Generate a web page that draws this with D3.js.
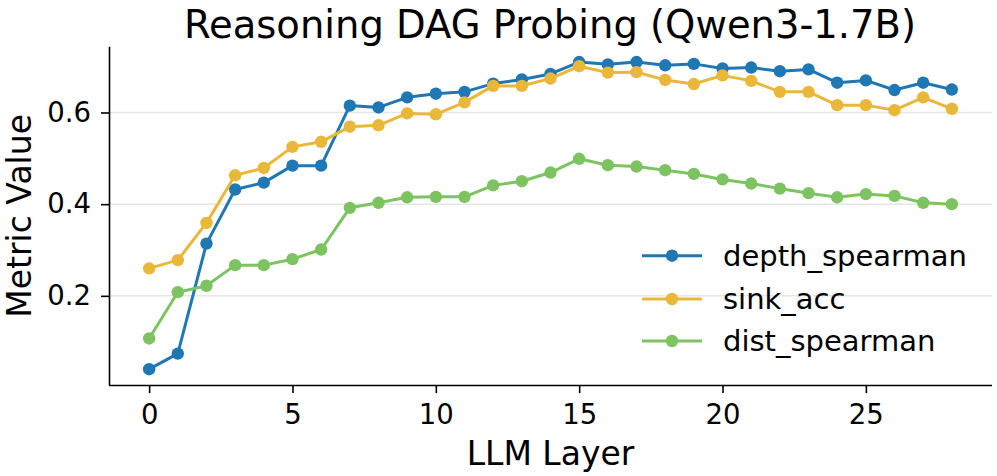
<!DOCTYPE html>
<html><head><meta charset="utf-8">
<script src="https://cdn.jsdelivr.net/npm/d3@7/dist/d3.min.js"></script>
<style>body{margin:0;background:#fff}svg{display:block}text{font-family:"DejaVu Sans",sans-serif}</style>
</head><body>
<svg id="c" width="997" height="476"></svg>
<script>
const layers = d3.range(0, 29);
const depthSpearman = [0.040,0.074,0.314,0.432,0.447,0.484,0.484,0.615,0.611,0.633,0.641,0.645,0.663,0.672,0.684,0.710,0.705,0.710,0.703,0.706,0.696,0.698,0.690,0.694,0.665,0.670,0.649,0.665,0.650];
const sinkAcc = [0.260,0.278,0.359,0.463,0.479,0.525,0.536,0.569,0.572,0.598,0.596,0.622,0.658,0.658,0.674,0.701,0.687,0.688,0.671,0.662,0.681,0.669,0.645,0.645,0.616,0.616,0.605,0.633,0.608];
const distSpearman = [0.107,0.208,0.222,0.267,0.267,0.280,0.301,0.392,0.403,0.415,0.416,0.416,0.441,0.450,0.469,0.499,0.485,0.482,0.474,0.466,0.454,0.445,0.434,0.424,0.415,0.422,0.418,0.403,0.400];
const seriesNames = ["depth_spearman","sink_acc","dist_spearman"];
const seriesColors = ["#1f77b4","#e9b73a","#7dc362"];
const xTicks = [0,5,10,15,20,25];
const yTicks = [0.2,0.4,0.6];
const series = [depthSpearman, sinkAcc, distSpearman];

const svg = d3.select("#c");
const L = 109, R = 992, T = 46.7, B = 385;
const x = d3.scaleLinear().domain([-1.4, 29.4]).range([L, R]);
const y = d3.scaleLinear().domain([0.0055, 0.7435]).range([B, T]);

// grid
svg.append("g").selectAll("line").data(yTicks).join("line")
  .attr("x1", L).attr("x2", R).attr("y1", d=>y(d)).attr("y2", d=>y(d))
  .attr("stroke", "#e6e6e6").attr("stroke-width", 1.5);

// lines + markers
series.forEach((vals, i) => {
  const line = d3.line().x((d,j)=>x(layers[j])).y(d=>y(d));
  svg.append("path").datum(vals).attr("d", line).attr("fill","none")
    .attr("stroke", seriesColors[i]).attr("stroke-width", 3).attr("stroke-linejoin","round");
  svg.append("g").selectAll("circle").data(vals).join("circle")
    .attr("cx", (d,j)=>x(layers[j])).attr("cy", d=>y(d)).attr("r", 6.2)
    .attr("fill", seriesColors[i]);
});

// axes
const xa = svg.append("g").attr("transform", `translate(0,${B})`)
  .call(d3.axisBottom(x).tickValues(xTicks).tickSize(8).tickPadding(11).tickFormat(d3.format("d")));
const ya = svg.append("g").attr("transform", `translate(${L},0)`)
  .call(d3.axisLeft(y).tickValues(yTicks).tickSize(8).tickPadding(10).tickFormat(d3.format(".1f")));
[xa, ya].forEach(a => {
  a.select(".domain").attr("stroke","#000").attr("stroke-width",1.6);
  a.selectAll(".tick line").attr("stroke","#000").attr("stroke-width",1.6);
  a.selectAll(".tick text").attr("font-size", 27.5).attr("fill","#000").attr("font-family","DejaVu Sans");
});
xa.select(".domain").attr("d", `M${L},0.5H${R}`);
ya.select(".domain").attr("d", `M0.5,${T}V${B}`);

// labels
svg.append("text").attr("x", (L+R)/2).attr("y", 465).attr("text-anchor","middle")
  .attr("font-size", 33).text("LLM Layer");
svg.append("text").attr("transform", `translate(31,${(T+B)/2}) rotate(-90)`).attr("text-anchor","middle")
  .attr("font-size", 33).text("Metric Value");
svg.append("text").attr("x", 550).attr("y", 38).attr("text-anchor","middle")
  .attr("font-size", 38.5).text("Reasoning DAG Probing (Qwen3-1.7B)");

// legend
const legY = [255.7, 299, 341];
seriesNames.forEach((n, i) => {
  const g = svg.append("g");
  g.append("line").attr("x1", 642).attr("x2", 702).attr("y1", legY[i]).attr("y2", legY[i])
    .attr("stroke", seriesColors[i]).attr("stroke-width", 3);
  g.append("circle").attr("cx", 672).attr("cy", legY[i]).attr("r", 6.2).attr("fill", seriesColors[i]);
  g.append("text").attr("x", 723).attr("y", legY[i]).attr("dy","0.36em").attr("font-size", 29).text(n);
});
</script>
</body></html>
